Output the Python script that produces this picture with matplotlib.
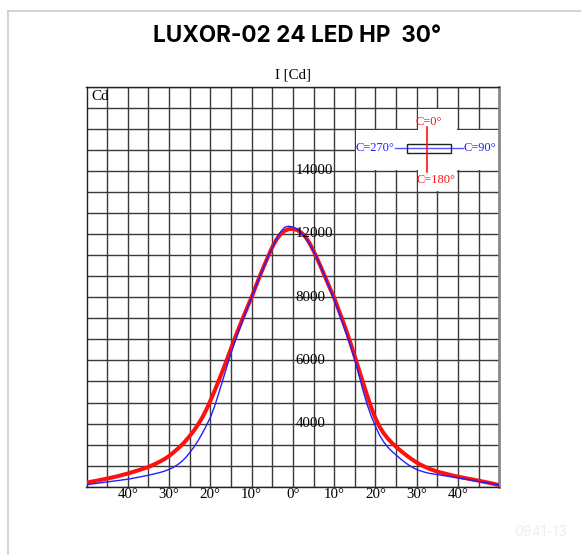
import matplotlib
matplotlib.use("Agg")
import matplotlib.pyplot as plt
from matplotlib.patches import Rectangle
from matplotlib.lines import Line2D

# angles (deg) and intensities (cd)
red_angles = [-50, -47.5, -45, -42.5, -40, -37.5, -35, -34, -33, -32, -31, -30, -29, -28,
              -27, -26, -25, -24, -23, -22, -21, -20, -19, -18, -17, -16, -15, -14, -13,
              -12, -11, -10, -9, -8, -7, -6, -5, -4, -3, -2, -1, 0, 1, 2, 3, 4, 5, 6, 7,
              8, 9, 10, 11, 12, 13, 14, 15, 16, 17, 18, 19, 20, 21, 22, 23, 24, 25, 26,
              27, 28, 29, 30, 31, 32, 33, 34, 35, 36, 37, 38, 39, 40, 42.5, 45, 47.5, 50]
red_cd = [200, 290, 390, 500, 630, 780, 940, 1030, 1120, 1220, 1330, 1460, 1620, 1790,
          1970, 2180, 2410, 2660, 2950, 3270, 3650, 4080, 4540, 5020, 5520, 6030, 6560,
          7080, 7580, 8070, 8540, 9000, 9510, 10010, 10480, 10940, 11380, 11730, 11990,
          12150, 12230, 12240, 12190, 12070, 11880, 11580, 11200, 10780, 10330, 9870,
          9410, 8970, 8450, 7920, 7380, 6800, 6180, 5560, 4940, 4330, 3750, 3250, 2850,
          2540, 2290, 2080, 1900, 1730, 1570, 1420, 1280, 1150, 1040, 950, 860, 790, 720,
          670, 620, 570, 520, 480, 385, 290, 190, 80]

blue_angles = [-50, -47.5, -45, -42.5, -40, -37.5, -35, -33, -32, -31, -30, -29, -28, -27,
               -26, -25, -24, -23, -22, -21, -20, -19, -18, -17, -16, -15, -14, -13, -12,
               -11, -10, -9, -8, -7, -6, -5, -4, -3, -2, -1, 0, 1, 2, 3, 4, 5, 6, 7, 8, 9,
               10, 11, 12, 13, 14, 15, 16, 17, 18, 19, 20, 21, 22, 23, 24, 25, 26, 27, 28,
               29, 30, 31, 32, 33, 34, 35, 37.5, 40, 42.5, 45, 47.5, 50]
blue_cd = [100, 165, 230, 295, 360, 450, 550, 640, 690, 750, 830, 920, 1040, 1190, 1380,
           1620, 1880, 2180, 2520, 2890, 3290, 3800, 4420, 5060, 5700, 6340, 6920, 7460,
           7990, 8500, 9000, 9500, 9990, 10460, 10920, 11350, 11760, 12100, 12320, 12370,
           12330, 12230, 12060, 11820, 11530, 11180, 10780, 10340, 9870, 9380, 8880, 8350,
           7800, 7240, 6660, 6040, 5300, 4560, 3900, 3340, 2870, 2450, 2130, 1880, 1680,
           1510, 1340, 1180, 1040, 920, 820, 750, 690, 640, 610, 580, 500, 420, 340, 250,
           170, 80]

angle_ticks = [-40, -30, -20, -10, 0, 10, 20, 30, 40]
angle_labels = ["40°", "30°", "20°", "10°", "0°", "10°", "20°", "30°", "40°"]
cd_label_pos = [15000, 12000, 9000, 6000, 3000]
cd_labels = ["14000", "12000", "8000", "6000", "4000"]

SERIF = "Liberation Serif"

fig = plt.figure(figsize=(5.81, 5.55), dpi=100)
ax = fig.add_axes([86.5 / 581, 1 - 486.8 / 555, 412.8 / 581, 400.3 / 555])

ax.set_xlim(-50, 50)
ax.set_ylim(0, 19000)
ax.set_xticks(angle_ticks)
ax.set_xticklabels(angle_labels, fontfamily=SERIF, fontsize=10.7)
ax.set_xticks([-45, -35, -25, -15, -5, 5, 15, 25, 35, 45], minor=True)
ax.set_yticks(range(0, 19001, 1000))
ax.set_yticklabels([])
ax.tick_params(which="both", length=0, pad=1)
ax.set_axisbelow(True)
ax.grid(which="both", color="#3a3a3a", lw=1.0)
for s in ("left", "bottom", "top"):
    ax.spines[s].set_color("#222222")
    ax.spines[s].set_linewidth(1.0)
ax.spines["right"].set_color("#888888")
ax.spines["right"].set_linewidth(2.0)

# white cut-out behind the C-plane legend
ax.add_patch(Rectangle((15.2, 15050), 34.6, 1900, facecolor="white", edgecolor="none", zorder=1))
ax.add_patch(Rectangle((30.2, 14050), 9.6, 3900, facecolor="white", edgecolor="none", zorder=1))

ax.plot(red_angles, red_cd, color="#ff1010", lw=2.9, zorder=3,
        solid_joinstyle="round", solid_capstyle="round")
ax.plot(blue_angles, blue_cd, color="#2020ff", lw=1.0, zorder=4, solid_joinstyle="round")

for pos, lab in zip(cd_label_pos, cd_labels):
    ax.text(0.6, pos, lab, fontfamily=SERIF, fontsize=10.7, ha="left", va="center", zorder=5)

ax.text(0.012, 0.992, "Cd", transform=ax.transAxes, fontfamily=SERIF, fontsize=11,
        ha="left", va="top")

# C-plane legend
tr = ax.transAxes
ax.add_line(Line2D([0.7473, 0.9128], [0.8471, 0.8471], transform=tr, color="#5555ff", lw=1.0, zorder=6))
ax.add_patch(Rectangle((0.7757, 0.8331), 0.1073, 0.0225, transform=tr, facecolor="none",
                       edgecolor="#222222", lw=1.0, zorder=7))
ax.add_line(Line2D([0.8256, 0.8256], [0.7872, 0.8996], transform=tr, color="#ff1010", lw=1.2, zorder=8))
ax.text(0.8302, 0.9121, "C=0°", transform=tr, color="#ff1010", fontfamily=SERIF, fontsize=8.9,
        ha="center", va="center")
ax.text(0.8466, 0.7664, "C=180°", transform=tr, color="#ff1010", fontfamily=SERIF, fontsize=8.9,
        ha="center", va="center")
ax.text(0.6977, 0.8464, "C=270°", transform=tr, color="#2020ff", fontfamily=SERIF, fontsize=8.9,
        ha="center", va="center")
ax.text(0.9520, 0.8464, "C=90°", transform=tr, color="#2020ff", fontfamily=SERIF, fontsize=8.9,
        ha="center", va="center")

fig.text(293 / 581, 1 - 75 / 555, "I [Cd]", fontfamily=SERIF, fontsize=10.7, ha="center", va="center")
fig.text(297 / 581, 1 - 36 / 555, "LUXOR-02 24 LED HP  30°", fontfamily="Inter", fontweight="bold",
         fontsize=16.2, ha="center", va="center")
fig.text(541 / 581, 1 - 532 / 555, "0941-13", fontfamily="Inter", fontsize=10, color="#eeeeee",
         ha="center", va="center")

# light page frame
x0, y0 = 8 / 581, 1 - 11 / 555
fig.add_artist(Line2D([x0, 1], [y0, y0], color="#cccccc", lw=1.2))
fig.add_artist(Line2D([x0, x0], [0, y0], color="#cccccc", lw=1.2))

fig.savefig("out.png", dpi=100)
